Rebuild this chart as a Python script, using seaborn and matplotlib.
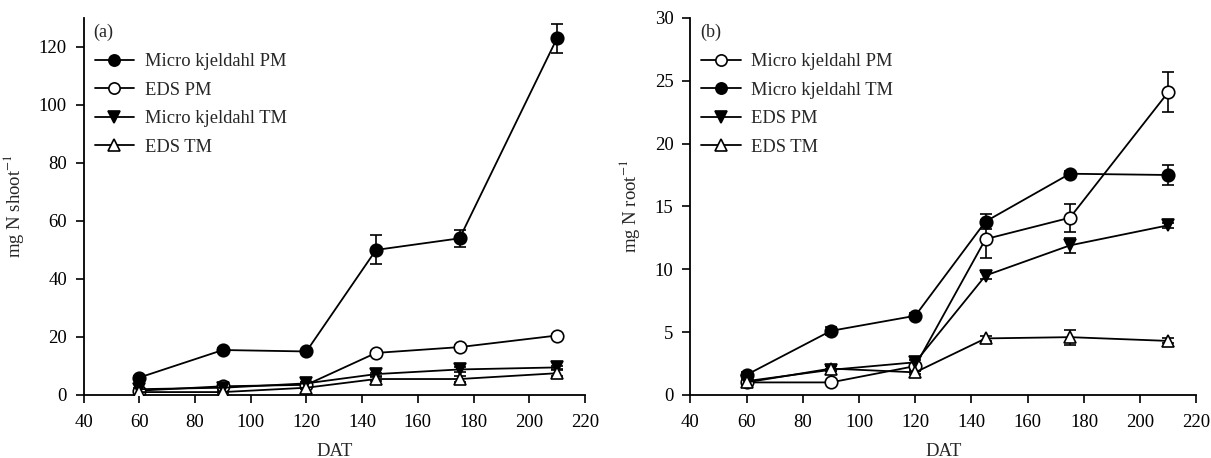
import numpy as np
import pandas as pd
import matplotlib
matplotlib.use("Agg")
import matplotlib.pyplot as plt
import seaborn as sns

sns.set_style("ticks")
plt.rcParams['font.family'] = ['Liberation Serif', 'DejaVu Serif']
plt.rcParams['mathtext.fontset'] = 'stix'

dat = [60, 90, 120, 145, 175, 210]

# Panel (a): mg N shoot^-1
a_labels = ["Micro kjeldahl PM", "EDS PM", "Micro kjeldahl TM", "EDS TM"]
a_mk_pm = [6.0, 15.5, 15.0, 50.0, 54.0, 123.0]
a_mk_pm_err = [0.5, 0.6, 0.6, 5.0, 3.0, 5.0]
a_eds_pm = [1.5, 3.0, 3.5, 14.5, 16.5, 20.5]
a_eds_pm_err = [0.3, 0.3, 0.3, 0.6, 0.6, 0.6]
a_mk_tm = [2.0, 2.5, 4.0, 7.2, 8.8, 9.5]
a_mk_tm_err = [0.3, 0.3, 0.4, 0.5, 1.0, 0.6]
a_eds_tm = [1.0, 1.0, 2.5, 5.5, 5.5, 7.5]
a_eds_tm_err = [0.3, 0.3, 0.3, 0.8, 1.0, 1.0]

# Panel (b): mg N root^-1
b_labels = ["Micro kjeldahl PM", "Micro kjeldahl TM", "EDS PM", "EDS TM"]
b_mk_pm = [1.0, 1.0, 2.3, 12.4, 14.1, 24.1]
b_mk_pm_err = [0.1, 0.1, 0.2, 1.5, 1.1, 1.6]
b_mk_tm = [1.6, 5.1, 6.3, 13.8, 17.6, 17.5]
b_mk_tm_err = [0.2, 0.3, 0.2, 0.6, 0.2, 0.8]
b_eds_pm = [1.1, 2.0, 2.6, 9.5, 11.9, 13.5]
b_eds_pm_err = [0.1, 0.1, 0.2, 0.3, 0.6, 0.2]
b_eds_tm = [1.0, 2.1, 1.8, 4.5, 4.6, 4.3]
b_eds_tm_err = [0.1, 0.2, 0.1, 0.2, 0.6, 0.2]

styles = {
    "filled_circle": dict(marker="o", markerfacecolor="black"),
    "open_circle": dict(marker="o", markerfacecolor="white"),
    "down_tri": dict(marker="v", markerfacecolor="black"),
    "up_tri": dict(marker="^", markerfacecolor="white"),
}

fig = plt.figure(figsize=(12.11, 4.58), dpi=100)
ax1 = fig.add_axes([0.069, 0.1376, 0.414, 0.8234])
ax2 = fig.add_axes([0.570, 0.1376, 0.418, 0.8234])


def draw(ax, series, ylim, yticks, ylabel, tag):
    for label, vals, errs, st in series:
        df = pd.DataFrame({"DAT": dat, "val": vals})
        ax.errorbar(dat, vals, yerr=errs, fmt="none", ecolor="black",
                    elinewidth=1.2, capsize=4, capthick=1.2, zorder=2)
        sns.lineplot(data=df, x="DAT", y="val", ax=ax, color="black",
                     linewidth=1.3, markersize=9, markeredgecolor="black",
                     markeredgewidth=1.2, label=label, zorder=3,
                     **styles[st])
    ax.set_xlim(40, 220)
    ax.set_xticks(np.arange(40, 221, 20))
    ax.set_ylim(*ylim)
    ax.set_yticks(yticks)
    ax.set_xlabel("DAT", fontsize=13.5, labelpad=8)
    ax.set_ylabel(ylabel, fontsize=13.5, labelpad=9)
    ax.tick_params(axis="both", labelsize=13.5, direction="out", length=6,
                   width=1.2, colors="black")
    ax.tick_params(axis="x", pad=8)
    ax.tick_params(axis="y", pad=6)
    for s in ["top", "right"]:
        ax.spines[s].set_visible(False)
    for s in ["left", "bottom"]:
        ax.spines[s].set_linewidth(1.3)
        ax.spines[s].set_color("black")
    ax.text(0.02, 0.985, tag, transform=ax.transAxes, fontsize=13,
            va="top", ha="left")
    ax.legend(loc="upper left", bbox_to_anchor=(0.0, 0.935), frameon=False,
              fontsize=13.3, handlelength=2.15, labelspacing=0.62,
              handletextpad=0.55, borderaxespad=0.2, markerscale=0.9)


draw(ax1, [
    (a_labels[0], a_mk_pm, a_mk_pm_err, "filled_circle"),
    (a_labels[1], a_eds_pm, a_eds_pm_err, "open_circle"),
    (a_labels[2], a_mk_tm, a_mk_tm_err, "down_tri"),
    (a_labels[3], a_eds_tm, a_eds_tm_err, "up_tri"),
], (0, 130), np.arange(0, 121, 20), r"mg N shoot$^{-1}$", "(a)")

draw(ax2, [
    (b_labels[0], b_mk_pm, b_mk_pm_err, "open_circle"),
    (b_labels[1], b_mk_tm, b_mk_tm_err, "filled_circle"),
    (b_labels[2], b_eds_pm, b_eds_pm_err, "down_tri"),
    (b_labels[3], b_eds_tm, b_eds_tm_err, "up_tri"),
], (0, 30), np.arange(0, 31, 5), r"mg N root$^{-1}$", "(b)")

fig.savefig("out.png", dpi=100)
